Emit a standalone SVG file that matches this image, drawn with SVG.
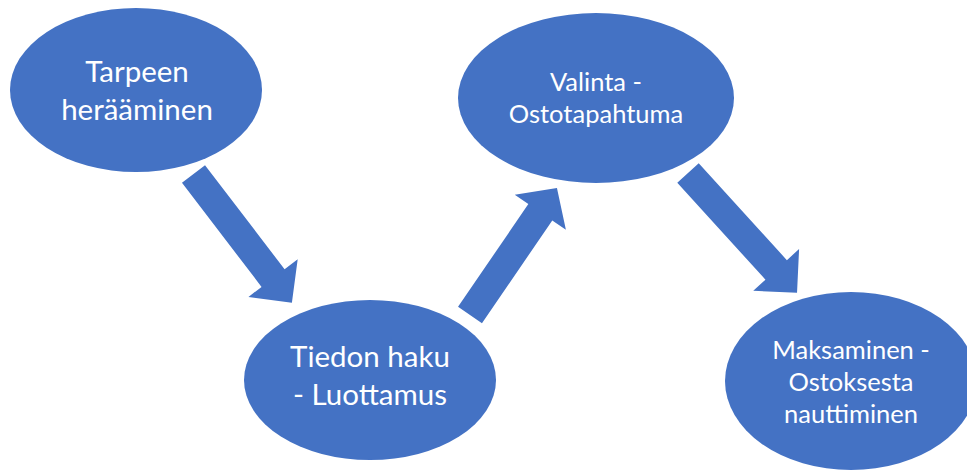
<svg xmlns="http://www.w3.org/2000/svg" width="967" height="470" viewBox="0 0 967 470">
  <style>
    .node { fill: #4472C4; }
    .label { fill: #FFFFFF; font-family: Lato, "Open Sans", sans-serif; text-anchor: middle; }
    .big { font-size: 29.5px; }
    .small { font-size: 25.5px; }
    .arrow { fill: #4472C4; }
  </style>
  <defs>
    <!-- block arrow template: tail at origin, pointing along +x -->
    <path id="blockArrow" d="M0,-14.5 L131,-14.5 L131,-31 L162,0 L131,31 L131,14.5 L0,14.5 Z"/>
  </defs>
  <rect width="967" height="470" fill="#FFFFFF"/>

  <g id="connectors" class="arrow">
    <use href="#blockArrow" transform="translate(193.5,174) rotate(52.6)"/>
    <use href="#blockArrow" transform="translate(470,315) rotate(-55.6) scale(0.95,1)"/>
    <use href="#blockArrow" transform="translate(688,173) rotate(47.7)"/>
  </g>

  <g id="node-tarpeen">
    <ellipse class="node" cx="136" cy="90" rx="126" ry="82"/>
    <text class="label big" x="137" y="82">Tarpeen</text>
    <text class="label big" x="137" y="120">herääminen</text>
  </g>

  <g id="node-valinta">
    <ellipse class="node" cx="596" cy="98" rx="138" ry="85"/>
    <text class="label small" x="596" y="91">Valinta -</text>
    <text class="label small" x="596" y="123">Ostotapahtuma</text>
  </g>

  <g id="node-tiedon">
    <ellipse class="node" cx="370" cy="380" rx="126" ry="80"/>
    <text class="label big" x="370" y="367">Tiedon haku</text>
    <text class="label big" x="370" y="405">- Luottamus</text>
  </g>

  <g id="node-maksaminen">
    <ellipse class="node" cx="851" cy="381" rx="126" ry="89"/>
    <text class="label small" x="851" y="359">Maksaminen -</text>
    <text class="label small" x="851" y="391">Ostoksesta</text>
    <text class="label small" x="851" y="423">nauttiminen</text>
  </g>
</svg>
